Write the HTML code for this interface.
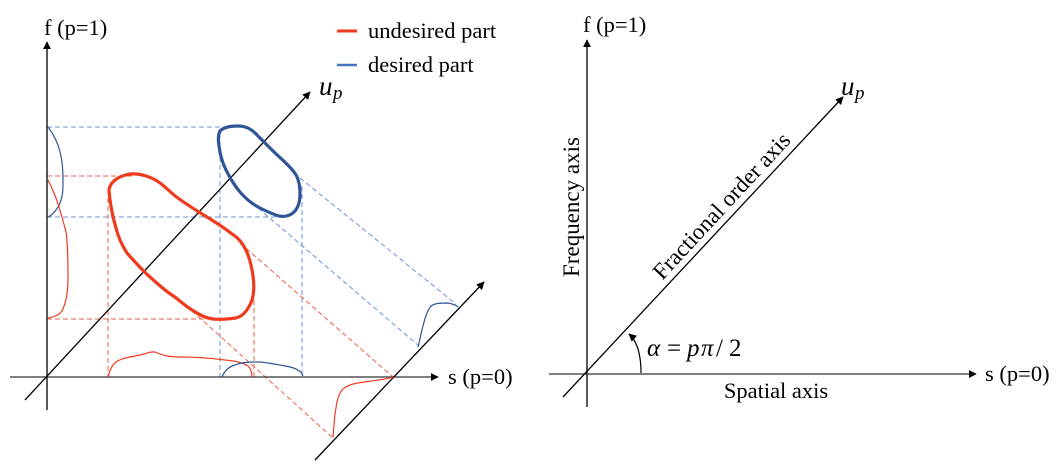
<!DOCTYPE html>
<html>
<head>
<meta charset="utf-8">
<style>
html,body{margin:0;padding:0;background:#fff;}
svg{display:block;}
text{font-family:"Liberation Serif","DejaVu Serif",serif;fill:#000;}
</style>
</head>
<body>
<svg width="1064" height="470" viewBox="0 0 1064 470" xmlns="http://www.w3.org/2000/svg">
<defs>
<marker id="ah" viewBox="0 0 10 10" refX="9" refY="5" markerWidth="8" markerHeight="8" markerUnits="userSpaceOnUse" orient="auto">
<path d="M0,0 L10,5 L0,10 z" fill="#000"/>
</marker>
</defs>

<!-- ================= LEFT PANEL ================= -->
<g stroke="#6b93d6" stroke-width="1" stroke-dasharray="5,3" fill="none">
<line x1="47" y1="127" x2="234" y2="127"/>
<line x1="47" y1="217" x2="280" y2="217"/>
<line x1="220" y1="133" x2="220" y2="377"/>
<line x1="302" y1="186" x2="302" y2="377"/>
<line x1="300" y1="178" x2="456" y2="304"/>
<line x1="258" y1="208" x2="419" y2="346"/>
</g>
<g stroke="#f0604c" stroke-width="1" stroke-dasharray="5,3" fill="none">
<line x1="47" y1="176" x2="134" y2="176"/>
<line x1="47" y1="319" x2="214" y2="319"/>
<line x1="108" y1="190" x2="108" y2="377"/>
<line x1="254" y1="292" x2="254" y2="377"/>
<line x1="240" y1="243" x2="393" y2="377"/>
<line x1="180" y1="300" x2="333" y2="438"/>
</g>

<g stroke="#000" stroke-width="1.3" fill="none">
<line x1="47" y1="410" x2="47" y2="42" marker-end="url(#ah)"/>
<line x1="10" y1="377" x2="438" y2="377" marker-end="url(#ah)" stroke="#333"/>
<line x1="25" y1="400" x2="310" y2="92" marker-end="url(#ah)"/>
<line x1="315" y1="460" x2="484" y2="282" marker-end="url(#ah)"/>
</g>

<g fill="none" stroke-width="1.2" stroke-linejoin="round">
<path stroke="#2f5597" d="M48,127 C54,135 58,143 60,152 C63,163 63,175 63,185 C63,197 60,205 56,210 C53,214 50,216 48,217"/>
<path stroke="#f03a1e" d="M48,180 C52,188 56,197 59,207 C62,217 64,224 66,232 C68,245 68,262 68,278 C68,292 66,303 62,311 C58,316 53,317 48,318"/>
<path stroke="#f03a1e" d="M108,377 C110,370 112,365 116,362 C122,358 130,357 140,355 C146,354 150,351 155,352 C162,355 168,357 180,357 C195,357 210,358 225,360 C236,361 244,363 248,366 C251,369 252,373 252,377"/>
<path stroke="#2f5597" d="M222,377 C224,372 228,367 235,365 C242,362 250,362 260,362 C270,363 280,365 290,367 C298,369 302,372 303,376"/>
<path stroke="#2f5597" d="M418,347 C420,340 421,333 423,326 C425,318 427,311 431,306 C435,303 442,303 448,303 C453,304 456,305 458,307"/>
<path stroke="#f03a1e" d="M393,377 C385,380 375,380 365,382 C355,383 347,385 343,389 C339,393 337,400 336,408 C334,418 334,428 333,437"/>
</g>

<path fill="none" stroke="#f03a1e" stroke-width="3.2" stroke-linejoin="round" d="M109,190 C110,182 118,176 130,174 C140,173 152,177 160,183 C168,189 172,194 178,198 C186,204 194,209 202,214 C212,220 222,226 232,234 C242,240 248,252 251,265 C254,278 255,290 252,300 C249,308 244,316 236,318 C228,319 220,320 213,319 C205,318 198,314 192,310 C184,305 178,299 172,295 C164,290 158,284 150,277 C142,270 135,262 127,253 C121,244 118,236 116,228 C113,218 111,207 110,200 Z"/>
<path fill="none" stroke="#2f5597" stroke-width="3.2" stroke-linejoin="round" d="M220,131 C224,127 230,126 238,126 C246,126 252,129 258,136 C262,140 266,144 272,150 C280,158 288,164 294,172 C299,178 300,186 300,194 C300,202 298,208 294,212 C290,216 284,217 279,216 C272,214 266,211 260,208 C252,204 246,199 240,192 C234,185 230,178 226,170 C222,162 220,154 219,146 C218,140 218,135 220,131 Z"/>

<line x1="337" y1="31" x2="357" y2="31" stroke="#f03a1e" stroke-width="3"/>
<line x1="337" y1="65" x2="357" y2="65" stroke="#4472c4" stroke-width="2.5"/>
<text x="368" y="38" font-size="22.5">undesired part</text>
<text x="368" y="72" font-size="22.5">desired part</text>

<text x="44" y="35" font-size="22.5">f (p=1)</text>
<text x="448" y="384" font-size="22.5">s (p=0)</text>
<text x="319" y="95" font-size="27" font-style="italic">u<tspan x="333" y="99" font-size="19">p</tspan></text>

<!-- ================= RIGHT PANEL ================= -->
<g stroke="#000" stroke-width="1.3" fill="none">
<line x1="587" y1="407" x2="587" y2="40" marker-end="url(#ah)"/>
<line x1="549" y1="374" x2="976" y2="374" marker-end="url(#ah)" stroke="#333"/>
<line x1="563" y1="397" x2="843" y2="97" marker-end="url(#ah)"/>
<path d="M641,373 C641,356 638,342 629,334" marker-end="url(#ah)" stroke-width="1.2"/>
</g>
<text x="583" y="32" font-size="22.5">f (p=1)</text>
<text x="985" y="381" font-size="22.5">s (p=0)</text>
<text x="776" y="398" font-size="22.5" text-anchor="middle">Spatial axis</text>
<text x="0" y="0" font-size="23" text-anchor="middle" transform="translate(579,207) rotate(-90)">Frequency axis</text>
<text x="0" y="0" font-size="23" text-anchor="middle" transform="translate(727,211) rotate(-47.2)">Fractional order axis</text>
<text x="841" y="95" font-size="27" font-style="italic">u<tspan x="855" y="99" font-size="19">p</tspan></text>
<g font-size="25">
<text x="647" y="356" font-style="italic">α</text>
<text x="667" y="356">=</text>
<text x="687" y="356" font-style="italic">p</text>
<text x="701" y="356" font-style="italic">π</text>
<text x="716" y="356">/</text>
<text x="729" y="356">2</text>
</g>
</svg>
</body>
</html>
